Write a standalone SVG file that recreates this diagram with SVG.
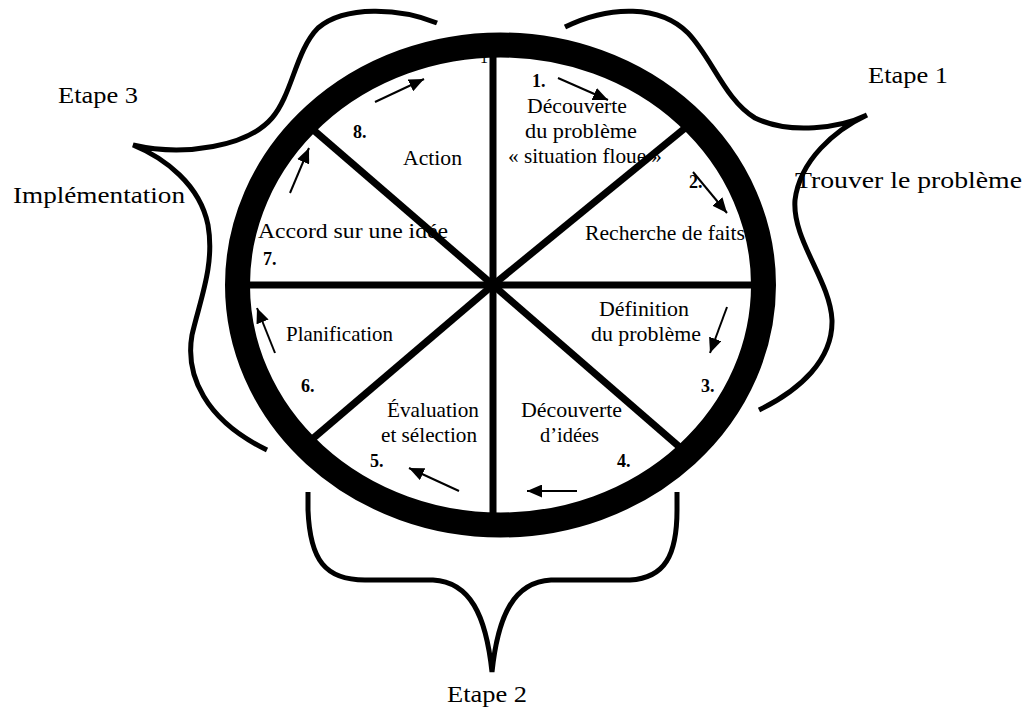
<svg xmlns="http://www.w3.org/2000/svg" width="1028" height="711" viewBox="0 0 1028 711">
<style>
.lbl{font-family:"Liberation Serif","Times New Roman",serif;font-size:21px;fill:#000}
.out{font-family:"Liberation Serif","Times New Roman",serif;font-size:24px;fill:#000}
.num{font-family:"Liberation Serif","Times New Roman",serif;font-size:18px;font-weight:bold;fill:#000}
.spoke{stroke:#000;stroke-width:7;fill:none}
.brace{stroke:#000;stroke-width:5;fill:none;stroke-linecap:butt}
.arr{stroke:#000;stroke-width:2;fill:none;marker-end:url(#ah)}
</style>
<defs>
<marker id="ah" markerUnits="userSpaceOnUse" markerWidth="15" markerHeight="13" refX="15" refY="6.5" orient="auto">
<path d="M0,0 L15,6.5 L0,13 z" fill="#000"/>
</marker>
</defs>
<rect width="1028" height="711" fill="#fff"/>

<g id="labels">
<g id="step1"><text class="num" x="532" y="87">1.</text>
<text class="lbl" x="527" y="113" textLength="100" lengthAdjust="spacingAndGlyphs">Découverte</text>
<text class="lbl" x="525" y="138" textLength="112" lengthAdjust="spacingAndGlyphs">du problème</text>
<text class="lbl" x="508" y="163" textLength="154" lengthAdjust="spacingAndGlyphs">« situation floue »</text></g>
<g id="step2"><text class="num" x="689" y="188">2.</text>
<text class="lbl" x="585" y="240" textLength="160" lengthAdjust="spacingAndGlyphs">Recherche de faits</text></g>
<g id="step3"><text class="lbl" x="599" y="316" textLength="90" lengthAdjust="spacingAndGlyphs">Définition</text>
<text class="lbl" x="591" y="341" textLength="110" lengthAdjust="spacingAndGlyphs">du problème</text>
<text class="num" x="701" y="392">3.</text></g>
<g id="step4"><text class="lbl" x="521" y="417" textLength="101" lengthAdjust="spacingAndGlyphs">Découverte</text>
<text class="lbl" x="540" y="442" textLength="59" lengthAdjust="spacingAndGlyphs">d’idées</text>
<text class="num" x="617" y="467">4.</text></g>
<g id="step5"><text class="lbl" x="387" y="417" textLength="92" lengthAdjust="spacingAndGlyphs">Évaluation</text>
<text class="lbl" x="381" y="442" textLength="96" lengthAdjust="spacingAndGlyphs">et sélection</text>
<text class="num" x="370" y="467">5.</text></g>
<g id="step6"><text class="lbl" x="286" y="341" textLength="107" lengthAdjust="spacingAndGlyphs">Planification</text>
<text class="num" x="301" y="392">6.</text></g>
<g id="step7"><text class="lbl" x="258" y="238" textLength="190" lengthAdjust="spacingAndGlyphs">Accord sur une idée</text>
<text class="num" x="263" y="265">7.</text></g>
<g id="step8"><text class="num" x="353" y="138">8.</text>
<text class="lbl" x="403" y="165" textLength="59" lengthAdjust="spacingAndGlyphs">Action</text></g>
<text class="lbl" x="480" y="63" style="font-size:16px">1</text>
</g>

<g id="wheel">
<line class="spoke" x1="493" y1="45" x2="493" y2="525"/>
<line class="spoke" x1="240" y1="285" x2="762" y2="285"/>
<line class="spoke" x1="493" y1="285" x2="310" y2="127"/>
<line class="spoke" x1="493" y1="285" x2="690" y2="124"/>
<line class="spoke" x1="493" y1="285" x2="310" y2="441"/>
<line class="spoke" x1="493" y1="285" x2="683" y2="450"/>
<ellipse cx="500.5" cy="285" rx="263" ry="240" fill="none" stroke="#000" stroke-width="25"/>
</g>

<g id="connectors">
<line class="arr" x1="558" y1="78" x2="608" y2="100"/>
<line class="arr" x1="693" y1="172" x2="727" y2="213"/>
<line class="arr" x1="727" y1="307" x2="710" y2="353"/>
<line class="arr" x1="577" y1="491" x2="527" y2="491"/>
<line class="arr" x1="459" y1="491" x2="409" y2="468"/>
<line class="arr" x1="275" y1="353" x2="257" y2="308"/>
<line class="arr" x1="290" y1="193" x2="309" y2="148"/>
<line class="arr" x1="375" y1="102" x2="424" y2="79"/>
</g>

<g id="etape1">
<path class="brace" d="M565,27 C610,5 660,5 688,33 C712,58 725,100 755,118 C790,135 840,128 867,115 C835,130 800,160 795,200 C792,240 830,280 832,320 C833,360 800,390 759,410"/>
<text class="out" x="868" y="83" textLength="80" lengthAdjust="spacingAndGlyphs">Etape 1</text>
<text class="out" x="795" y="188" textLength="227" lengthAdjust="spacingAndGlyphs">Trouver le problème</text>
</g>
<g id="etape2">
<path class="brace" d="M308,492 L308,510 C310,560 325,580 365,580 L433,580 C470,582 486,615 492,672 C498,615 514,582 551,580 L630,580 C665,578 677,555 677,510 L677,492"/>
<text class="out" x="447" y="702" textLength="80" lengthAdjust="spacingAndGlyphs">Etape 2</text>
</g>
<g id="etape3">
<path class="brace" d="M437,23 C400,8 345,5 318,28 C296,50 292,95 272,118 C248,146 185,157 133,145 C165,158 200,185 208,225 C215,265 200,300 192,335 C185,375 205,420 267,450"/>
<text class="out" x="58" y="103" textLength="80" lengthAdjust="spacingAndGlyphs">Etape 3</text>
<text class="out" x="13" y="203" textLength="172" lengthAdjust="spacingAndGlyphs">Implémentation</text>
</g>
</svg>
